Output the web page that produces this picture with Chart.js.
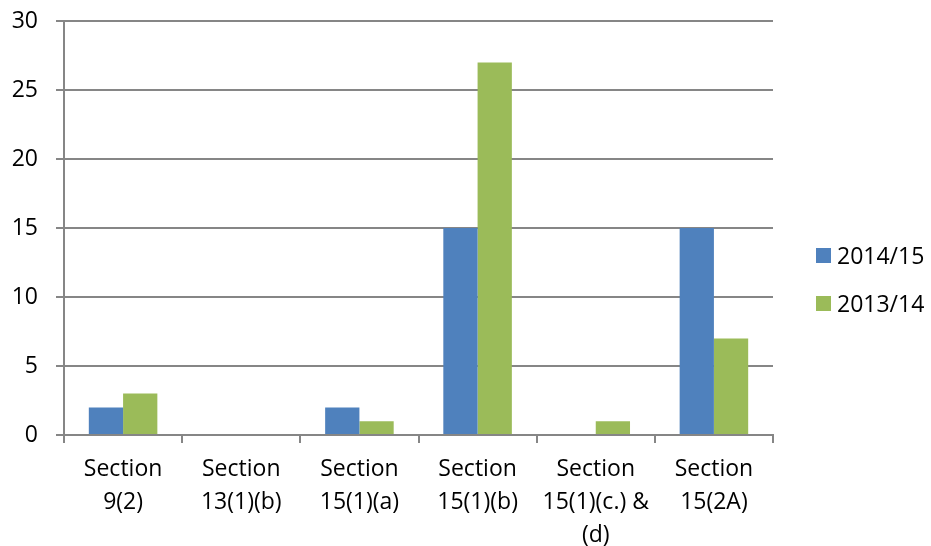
<!DOCTYPE html>
<html>
<head>
<meta charset="utf-8">
<script src="https://cdn.jsdelivr.net/npm/chart.js@4"></script>
<style>
  body { margin: 0; background: #fff; }
  #wrap { width: 931px; height: 546px; }
</style>
</head>
<body>
<div id="wrap"><canvas id="myChart" width="931" height="546"></canvas></div>
<script>
// data
var categories = [
  ['Section', '9(2)'],
  ['Section', '13(1)(b)'],
  ['Section', '15(1)(a)'],
  ['Section', '15(1)(b)'],
  ['Section', '15(1)(c.) &', '(d)'],
  ['Section', '15(2A)']
];
var seriesNames = ['2014/15', '2013/14'];
var values1415 = [2, 0, 2, 15, 0, 15];
var values1314 = [3, 0, 1, 27, 1, 7];
var yTicks = [0, 5, 10, 15, 20, 25, 30];

var colors = ['#4F81BD', '#9BBB59'];
var gridColor = '#868686';
var fontFamily = '"Open Sans", sans-serif';

// legend drawn at the right, like the excel one
const sideLegend = {
  id: 'sideLegend',
  afterDraw(chart) {
    const ctx = chart.ctx;
    ctx.save();
    ctx.font = '23px ' + fontFamily;
    ctx.textBaseline = 'alphabetic';
    ctx.textAlign = 'left';
    chart.data.datasets.forEach(function (ds, i) {
      var y = 248 + i * 48;
      ctx.fillStyle = ds.backgroundColor;
      ctx.fillRect(816, y, 15, 15);
      ctx.fillStyle = '#000';
      ctx.fillText(ds.label, 837, y + 16);
    });
    ctx.restore();
  }
};

const data = {
  labels: categories,
  datasets: [
    { label: seriesNames[0], data: values1415, backgroundColor: colors[0] },
    { label: seriesNames[1], data: values1314, backgroundColor: colors[1] }
  ]
};

const config = {
  type: 'bar',
  data: data,
  options: {
    responsive: false,
    animation: false,
    layout: { padding: { left: 0, top: 21, right: 158, bottom: 0 } },
    datasets: {
      bar: { barPercentage: 1, categoryPercentage: 0.58 }
    },
    plugins: {
      legend: { display: false },
      tooltip: { enabled: false }
    },
    scales: {
      x: {
        grid: {
          offset: true,
          drawOnChartArea: false,
          drawTicks: true,
          tickLength: 8,
          color: gridColor,
          lineWidth: 2
        },
        border: { display: true, color: gridColor, width: 2 },
        ticks: {
          color: '#000',
          padding: 10,
          maxRotation: 0,
          autoSkip: false,
          font: { family: fontFamily, size: 23, lineHeight: 1.43 }
        },
        afterFit: function (scale) {
          scale.height = 111;
          scale.paddingLeft = 0;
          scale.paddingRight = 0;
        }
      },
      y: {
        min: 0,
        max: 30,
        afterBuildTicks: function (scale) {
          scale.ticks = yTicks.map(function (v) { return { value: v }; });
        },
        grid: {
          color: gridColor,
          lineWidth: 2,
          drawTicks: true,
          tickLength: 8
        },
        border: { display: true, color: gridColor, width: 2 },
        ticks: {
          color: '#000',
          padding: 18,
          font: { family: fontFamily, size: 23 }
        },
        afterFit: function (scale) {
          scale.width = 64;
          scale.paddingTop = 0;
          scale.paddingBottom = 0;
        }
      }
    }
  },
  plugins: [sideLegend]
};

const ctx = document.getElementById('myChart');
let chart = new Chart(ctx, config);
</script>
</body>
</html>
